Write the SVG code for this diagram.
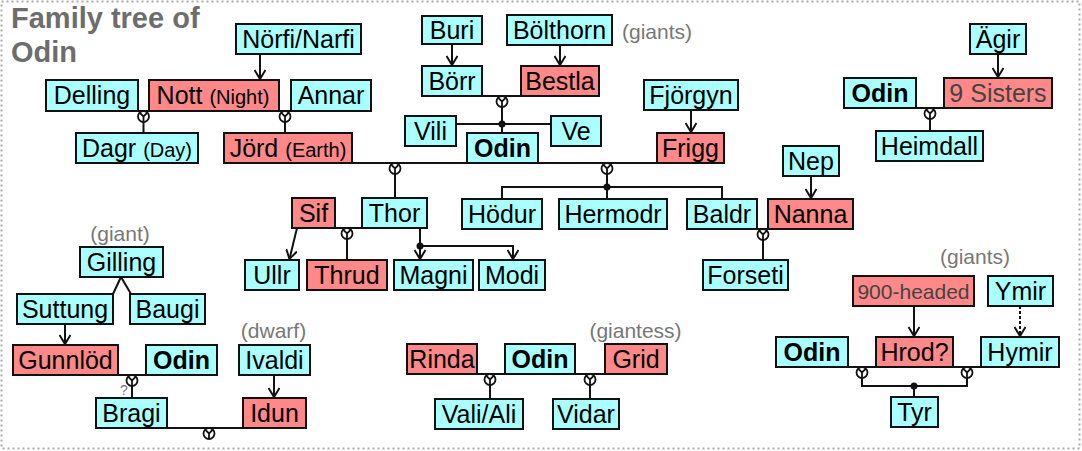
<svg xmlns="http://www.w3.org/2000/svg" xmlns:xlink="http://www.w3.org/1999/xlink" width="1082" height="451" viewBox="0 0 1082 451">
<style>
rect.c{fill:#aaffff;stroke:#111;stroke-width:2}
rect.p{fill:#ff8888;stroke:#111;stroke-width:2}
text{font-family:"Liberation Sans",Arial,Helvetica,sans-serif;font-size:25px;text-anchor:middle;fill:#000}
text.b{font-weight:bold}
text.d{fill:#444}
tspan.s{font-size:20px}
text.g{fill:#777;font-size:21px}
text.title{fill:#6d6d6d;font-size:29px;font-weight:bold;text-anchor:start}
.ln{fill:none;stroke:#111;stroke-width:2}
.ar{marker-end:url(#arr)}
.dash{stroke-dasharray:3 2}
.dot{fill:#111}
</style>
<defs>
<marker id="arr" markerWidth="12" markerHeight="12" viewBox="-10 -6 12 12" refX="0" refY="0" orient="auto" markerUnits="userSpaceOnUse">
<path d="M-9,-5.5 L0,0 L-9,5.5" fill="none" stroke="#111" stroke-width="2"/>
</marker>
<g id="m">
<circle cx="0" cy="0" r="5.5" fill="#fff" stroke="#111" stroke-width="1.8"/>
<path d="M-3.9,-3.9 L0,0 L3.9,-3.9 M0,0 V5.5" fill="none" stroke="#111" stroke-width="1.8"/>
</g>
</defs>
<rect x="1.5" y="1.5" width="1078" height="447" fill="#fff" stroke="#aaa" stroke-width="2" stroke-dasharray="2 3"/>
<text class="title" x="11" y="28">Family tree of</text>
<text class="title" x="11" y="62">Odin</text>

<g id="connectors">
<path class="ln ar" d="M260,54 V79"/>
<path class="ln" d="M138,111 H149"/>
<use xlink:href="#m" x="143.5" y="116.5"/>
<path class="ln" d="M143.5,122 V133"/>
<path class="ln" d="M279,111 H291"/>
<use xlink:href="#m" x="285" y="116.5"/>
<path class="ln" d="M285,122 V133"/>
<path class="ln" d="M352,163 H467"/>
<use xlink:href="#m" x="395" y="168.5"/>
<path class="ln" d="M395,174 V198"/>
<path class="ln ar" d="M452,44 V65"/>
<path class="ln ar" d="M560,45 V65"/>
<path class="ln" d="M482,96 H521"/>
<use xlink:href="#m" x="502" y="101.5"/>
<path class="ln" d="M502,107 V133 M456,124 H551"/>
<circle class="dot" cx="502" cy="124" r="3.5"/>
<path class="ln ar" d="M691,110 V132"/>
<path class="ln" d="M538,163 H657"/>
<use xlink:href="#m" x="607" y="168.5"/>
<path class="ln" d="M607,174 V199 M502,199 V187 H722 V199"/>
<circle class="dot" cx="607" cy="187" r="3.5"/>
<path class="ln" d="M757,229 H768"/>
<use xlink:href="#m" x="763" y="234.5"/>
<path class="ln" d="M763,240 V260"/>
<path class="ln ar" d="M811,176 V198"/>
<path class="ln" d="M916,108 H944"/>
<use xlink:href="#m" x="930" y="113.5"/>
<path class="ln" d="M930,119 V131"/>
<path class="ln ar" d="M998,54 V77"/>
<path class="ln" d="M335,228 H362"/>
<use xlink:href="#m" x="347" y="233.5"/>
<path class="ln" d="M347,239 V260"/>
<path class="ln ar" d="M297,228 L289.5,259"/>
<path class="ln ar" d="M420,228 V259"/>
<path class="ln ar" d="M420,246 H513 V259"/>
<circle class="dot" cx="420" cy="246" r="3.5"/>
<path class="ln" d="M113,294 L121,277 L131,294"/>
<path class="ln ar" d="M65,324 V344"/>
<path class="ln" d="M118,375 H146"/>
<use xlink:href="#m" x="132" y="380.5"/>
<path class="ln" d="M132,386 V398"/>
<path class="ln ar" d="M274,375 V397"/>
<path class="ln" d="M167,428 H243"/>
<use xlink:href="#m" x="209" y="433.5"/>
<path class="ln" d="M477,374 H505"/>
<use xlink:href="#m" x="490" y="379.5"/>
<path class="ln" d="M490,385 V399"/>
<path class="ln" d="M575,374 H605"/>
<use xlink:href="#m" x="590" y="379.5"/>
<path class="ln" d="M590,385 V399"/>
<path class="ln ar" d="M914,306 V336"/>
<path class="ln ar dash" d="M1020,306 V336"/>
<path class="ln" d="M848,367 H876 M953,367 H981"/>
<use xlink:href="#m" x="862" y="372.5"/>
<use xlink:href="#m" x="967" y="372.5"/>
<path class="ln" d="M862,378 V386 H967 V378 M914,386 V397"/>
<circle class="dot" cx="914" cy="386" r="3.5"/>
</g>

<g id="n_norfi"><rect class="c" x="236" y="24" width="125" height="30"/><text x="298.5" y="48">Nörfi/Narfi</text></g>
<g id="n_delling"><rect class="c" x="46" y="80" width="92" height="31"/><text x="92" y="104">Delling</text></g>
<g id="n_nott"><rect class="p" x="149" y="80" width="130" height="31"/><text x="213" y="104">Nott <tspan class="s">(Night)</tspan></text></g>
<g id="n_annar"><rect class="c" x="291" y="80" width="80" height="31"/><text x="331" y="104">Annar</text></g>
<g id="n_dagr"><rect class="c" x="76" y="133" width="122" height="30"/><text x="137" y="157">Dagr <tspan class="s">(Day)</tspan></text></g>
<g id="n_jord"><rect class="p" x="224" y="133" width="128" height="30"/><text x="288" y="157">Jörd <tspan class="s">(Earth)</tspan></text></g>
<g id="n_buri"><rect class="c" x="422" y="16" width="60" height="28"/><text x="452" y="39">Buri</text></g>
<g id="n_bolthorn"><rect class="c" x="507" y="15" width="105" height="30"/><text x="559.5" y="39">Bölthorn</text></g>
<text class="g" x="622" y="39" style="text-anchor:start">(giants)</text>
<g id="n_borr"><rect class="c" x="422" y="66" width="60" height="30"/><text x="452" y="90">Börr</text></g>
<g id="n_bestla"><rect class="p" x="521" y="66" width="78" height="30"/><text x="560" y="90">Bestla</text></g>
<g id="n_vili"><rect class="c" x="405" y="116" width="51" height="30"/><text x="430.5" y="140">Vili</text></g>
<g id="n_ve"><rect class="c" x="551" y="116" width="50" height="30"/><text x="576" y="140">Ve</text></g>
<g id="n_odin1"><rect class="c" x="467" y="133" width="71" height="30"/><text class="b" x="502.5" y="157">Odin</text></g>
<g id="n_fjorgyn"><rect class="c" x="644" y="80" width="94" height="30"/><text x="691" y="104">Fjörgyn</text></g>
<g id="n_frigg"><rect class="p" x="657" y="133" width="67" height="30"/><text x="690.5" y="157">Frigg</text></g>
<g id="n_sif"><rect class="p" x="292" y="198" width="43" height="30"/><text x="313.5" y="222">Sif</text></g>
<g id="n_thor"><rect class="c" x="362" y="198" width="65" height="30"/><text x="394.5" y="222">Thor</text></g>
<g id="n_hodur"><rect class="c" x="462" y="199" width="80" height="30"/><text x="502" y="223">Hödur</text></g>
<g id="n_hermodr"><rect class="c" x="559" y="199" width="108" height="30"/><text x="613" y="223">Hermodr</text></g>
<g id="n_baldr"><rect class="c" x="687" y="199" width="70" height="30"/><text x="722" y="223">Baldr</text></g>
<g id="n_nanna"><rect class="p" x="768" y="199" width="85" height="30"/><text x="810.5" y="223">Nanna</text></g>
<g id="n_nep"><rect class="c" x="783" y="146" width="56" height="30"/><text x="811" y="170">Nep</text></g>
<g id="n_ullr"><rect class="c" x="245" y="260" width="54" height="30"/><text x="272" y="284">Ullr</text></g>
<g id="n_thrud"><rect class="p" x="307" y="260" width="80" height="30"/><text x="347" y="284">Thrud</text></g>
<g id="n_magni"><rect class="c" x="394" y="260" width="79" height="30"/><text x="433.5" y="284">Magni</text></g>
<g id="n_modi"><rect class="c" x="479" y="260" width="66" height="30"/><text x="512" y="284">Modi</text></g>
<g id="n_forseti"><rect class="c" x="703" y="260" width="85" height="30"/><text x="745.5" y="284">Forseti</text></g>
<g id="n_odin2"><rect class="c" x="844" y="78" width="72" height="30"/><text class="b" x="880" y="102">Odin</text></g>
<g id="n_9sisters"><rect class="p" x="944" y="78" width="108" height="30"/><text class="d" x="998" y="102">9 Sisters</text></g>
<g id="n_agir"><rect class="c" x="970" y="24" width="56" height="30"/><text x="998" y="48">Ägir</text></g>
<g id="n_heimdall"><rect class="c" x="876" y="131" width="107" height="30"/><text x="929.5" y="155">Heimdall</text></g>
<text class="g" x="120" y="241">(giant)</text>
<g id="n_gilling"><rect class="c" x="80" y="247" width="83" height="30"/><text x="121.5" y="271">Gilling</text></g>
<g id="n_suttung"><rect class="c" x="17" y="294" width="96" height="30"/><text x="65" y="318">Suttung</text></g>
<g id="n_baugi"><rect class="c" x="130" y="294" width="75" height="30"/><text x="167.5" y="318">Baugi</text></g>
<g id="n_gunnlod"><rect class="p" x="13" y="345" width="105" height="30"/><text x="65.5" y="369">Gunnlöd</text></g>
<g id="n_odin3"><rect class="c" x="146" y="345" width="71" height="30"/><text class="b" x="181.5" y="369">Odin</text></g>
<text class="g" x="124" y="395" style="font-size:14px">?</text>
<g id="n_bragi"><rect class="c" x="96" y="398" width="71" height="30"/><text x="131.5" y="422">Bragi</text></g>
<text class="g" x="273.5" y="338">(dwarf)</text>
<g id="n_ivaldi"><rect class="c" x="239" y="345" width="71" height="30"/><text x="274.5" y="369">Ivaldi</text></g>
<g id="n_idun"><rect class="p" x="243" y="398" width="63" height="30"/><text x="274.5" y="422">Idun</text></g>
<text class="g" x="635.5" y="338">(giantess)</text>
<g id="n_rinda"><rect class="p" x="407" y="344" width="70" height="30"/><text x="442" y="368">Rinda</text></g>
<g id="n_odin4"><rect class="c" x="505" y="344" width="70" height="30"/><text class="b" x="540" y="368">Odin</text></g>
<g id="n_grid"><rect class="p" x="605" y="344" width="62" height="30"/><text x="636" y="368">Grid</text></g>
<g id="n_vali"><rect class="c" x="435" y="399" width="88" height="30"/><text x="479" y="423">Vali/Ali</text></g>
<g id="n_vidar"><rect class="c" x="553" y="399" width="66" height="30"/><text x="586" y="423">Vidar</text></g>
<text class="g" x="975" y="264">(giants)</text>
<g id="n_900"><rect class="p" x="853" y="276" width="121" height="30"/><text class="d" x="913.5" y="299" style="font-size:21px">900-headed</text></g>
<g id="n_ymir"><rect class="c" x="988" y="276" width="65" height="30"/><text x="1020.5" y="300">Ymir</text></g>
<g id="n_odin5"><rect class="c" x="776" y="337" width="72" height="30"/><text class="b" x="812" y="361">Odin</text></g>
<g id="n_hrod"><rect class="p" x="876" y="337" width="77" height="30"/><text x="914.5" y="361">Hrod?</text></g>
<g id="n_hymir"><rect class="c" x="981" y="337" width="78" height="30"/><text x="1020" y="361">Hymir</text></g>
<g id="n_tyr"><rect class="c" x="891" y="397" width="47" height="30"/><text x="914.5" y="421">Tyr</text></g>
</svg>
